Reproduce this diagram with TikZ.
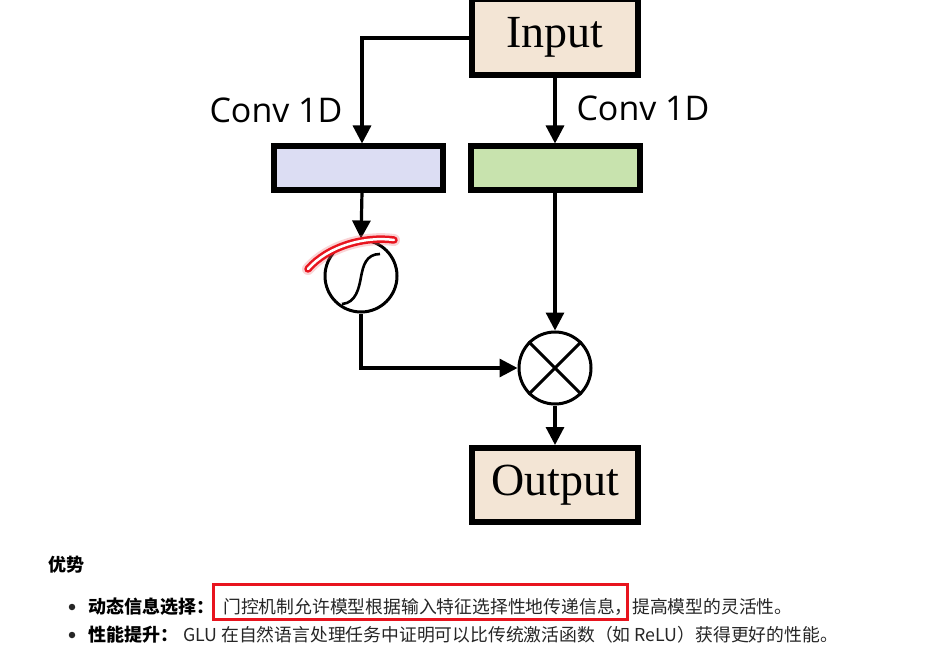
\documentclass[tikz,border=0pt]{standalone}
\usepackage{fontspec}
\setmainfont{Liberation Serif}
\newfontfamily\cjk{Noto Sans CJK SC}
\newfontfamily\convfont{Open Sans}
\usetikzlibrary{arrows.meta}
\definecolor{beige}{RGB}{243,229,213}
\definecolor{lblue}{RGB}{220,221,243}
\definecolor{lgreen}{RGB}{200,227,174}
\definecolor{hlred}{RGB}{232,20,30}
\tikzset{
  blk/.style={draw=black,line width=6pt,inner sep=0pt},
  conn/.style={line width=3.2pt,-{Triangle[width=18pt,length=18pt]}},
  opnode/.style={circle,draw=black,line width=3pt,minimum size=72pt,inner sep=0pt},
  convlbl/.style={font=\convfont\fontsize{34}{34}\selectfont,inner sep=0pt},
  bodytxt/.style={font=\cjk\fontsize{17.8}{17.8}\selectfont,inner sep=0pt,anchor=base west,text=black!85},
  boldtxt/.style={font=\cjk\bfseries\fontsize{18}{18}\selectfont,inner sep=0pt,anchor=base west},
}
\begin{document}
\begin{tikzpicture}[x=1pt,y=-1pt]
\useasboundingbox[fill=white] (0,0) rectangle (933,652);
% boxes
\node[blk,fill=beige,minimum width=166pt,minimum height=76pt,font=\fontsize{46}{46}\selectfont] (in) at (555,37) {Input};
\node[blk,fill=lblue,minimum width=169pt,minimum height=44pt] (cl) at (358.5,168.5) {};
\node[blk,fill=lgreen,minimum width=169pt,minimum height=44pt] (cr) at (555,168.5) {};
\node[blk,fill=beige,minimum width=166pt,minimum height=74pt,font=\fontsize{46}{46}\selectfont] (out) at (555,485) {Output};
% operators
\node[opnode] (sig) at (361,276) {};
\node[opnode] (mul) at (555,368) {};
\draw[line width=3pt] (mul.45) -- (mul.225) (mul.135) -- (mul.315);
\draw[line width=2.6pt] (380,254) .. controls (366,254) and (363,266) .. (361,277) .. controls (359,288) and (356,303) .. (342,304);
% labels
\node[convlbl] (lblL) at (276,110) {Conv 1D};
\node[convlbl] (lblR) at (643,108) {Conv 1D};
% connectors
\coordinate (cornerA) at (362,38);
\coordinate (cornerB) at (361,368);
\draw[conn] (in.west |- 0,38) -- (cornerA) -- (cornerA |- cl.north);
\draw[conn] (in.south) -- (cr.north);
\draw[conn] (362,192) -- (sig.north);
\draw[conn] (sig.south) -- (cornerB) -- (mul.west);
\draw[conn] (cr.south) -- (mul.north);
\draw[conn] (mul.south) -- (out.north);
% red highlight on sigmoid
\draw[hlred!60,line width=12pt,line cap=round,opacity=0.3] (308,269) .. controls (328,246) and (365,236) .. (394,240);
\draw[hlred,line width=7.5pt,line cap=round] (308,269) .. controls (328,246) and (365,236) .. (394,240);
\draw[white,line width=2.5pt,line cap=round] (308,269) .. controls (328,246) and (365,236) .. (394,240);
% text section
\node[boldtxt] (adv) at (48,571) {优势};
\node[circle,fill=black!85,inner sep=0pt,minimum size=6.5pt] (b1) at (72,607) {};
\node[circle,fill=black!85,inner sep=0pt,minimum size=6.5pt] (b2) at (72,635) {};
\node[boldtxt] (t1a) at (88,613) {动态信息选择：};
\node[bodytxt] (t1b) at (223,613) {门控机制允许模型根据输入特征选择性地传递信息，};
\node[bodytxt] (t1c) at (632,613) {提高模型的灵活性。};
\node[draw=hlred,line width=3pt,minimum width=414pt,minimum height=35pt,inner sep=0pt] (hl) at (420,602) {};
\node[boldtxt] (t2a) at (88,641) {性能提升：};
\node[bodytxt] (t2b) at (183,641) {GLU 在自然语言处理任务中证明可以比传统激活函数（如 ReLU）获得更好的性能。};
\end{tikzpicture}
\end{document}
